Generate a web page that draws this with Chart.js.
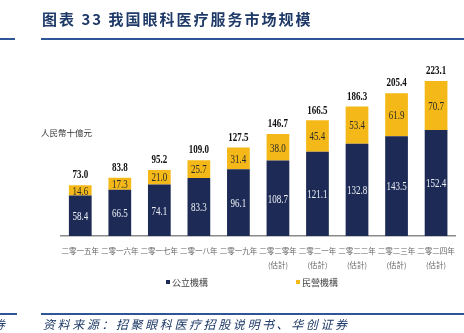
<!DOCTYPE html>
<html>
<head>
<meta charset="utf-8">
<script src="https://cdn.jsdelivr.net/npm/chart.js@4.4.1/dist/chart.umd.min.js"></script>
<style>
  html, body { margin: 0; padding: 0; background: #fff; }
  #page { position: relative; width: 464px; height: 333px; overflow: hidden; font-family: "Noto Sans CJK SC", sans-serif; }
  #chart-wrap { position: absolute; left: 0; top: 0; width: 464px; height: 333px; }
  .title { position: absolute; left: 42px; top: 8px; font-size: 15px; font-weight: bold; color: #1f3a68; letter-spacing: 2px; white-space: nowrap; }
  .rule { position: absolute; height: 2px; background: #2f5596; }
  .unit { position: absolute; left: 41px; top: 126px; font-size: 8.5px; color: #333; white-space: nowrap; }
  .legend { position: absolute; top: 276px; font-size: 9px; color: #444; white-space: nowrap; }
  .legend i { display: inline-block; width: 4px; height: 4px; margin-right: 2px; vertical-align: 2px; }
  .source { position: absolute; left: 43px; top: 315px; font-size: 12px; font-style: italic; color: #1f3a68; letter-spacing: 2.6px; white-space: nowrap; }
</style>
</head>
<body>
<div id="page">
  <div id="chart-wrap"><canvas id="marketChart"></canvas></div>
  <div class="title">图表 33 我国眼科医疗服务市场规模</div>
  <div class="rule" style="left:41px; right:0; top:38px;"></div>
  <div class="rule" style="left:0; width:15px; top:38px;"></div>
  <div class="unit">人民幣十億元</div>
  <div class="legend" style="left:166px;"><i style="background:#1c2a55"></i>公立機構</div>
  <div class="legend" style="left:296px;"><i style="background:#f4b918"></i>民營機構</div>
  <div class="rule" style="left:41px; right:0; top:313px;"></div>
  <div class="rule" style="left:0; width:17px; top:313px;"></div>
  <div class="source" style="left:-7px;">券</div>
  <div class="source">资料来源：招聚眼科医疗招股说明书、华创证券</div>
</div>
<script>
// market size, RMB bn
const years = [
  "二零一五年", "二零一六年", "二零一七年", "二零一八年", "二零一九年",
  ["二零二零年", "(估計)"], ["二零二一年", "(估計)"], ["二零二二年", "(估計)"],
  ["二零二三年", "(估計)"], ["二零二四年", "(估計)"]
];
const publicInst = [58.4, 66.5, 74.1, 83.3, 96.1, 108.7, 121.1, 132.8, 143.5, 152.4];
const privateInst = [14.6, 17.3, 21.0, 25.7, 31.4, 38.0, 45.4, 53.4, 61.9, 70.7];
const totals = [73.0, 83.8, 95.2, 109.0, 127.5, 146.7, 166.5, 186.3, 205.4, 223.1];

const NAVY = "#1c2a55";
const GOLD = "#f4b918";

// narrow serif numbers, drawn squeezed horizontally
const drawNarrow = (ctx, text, x, y, font, color) => {
  ctx.save();
  ctx.font = font;
  ctx.fillStyle = color;
  ctx.textAlign = "center";
  ctx.textBaseline = "middle";
  ctx.translate(x, y);
  ctx.scale(0.72, 1);
  ctx.fillText(text, 0, 0);
  ctx.restore();
};

const valueLabels = {
  id: "valueLabels",
  afterDatasetsDraw(chart) {
    const { ctx } = chart;
    chart.data.datasets.forEach((ds, di) => {
      const meta = chart.getDatasetMeta(di);
      meta.data.forEach((bar, i) => {
        const cy = (bar.y + bar.base) / 2;
        const color = di === 0 ? "#eef1f7" : "#2a2a2a";
        drawNarrow(ctx, ds.data[i].toFixed(1), bar.x, cy + 1, "12.5px 'Liberation Serif'", color);
      });
    });
    const top = chart.getDatasetMeta(chart.data.datasets.length - 1);
    top.data.forEach((bar, i) => {
      drawNarrow(ctx, totals[i].toFixed(1), bar.x, bar.y - 10, "bold 12.5px 'Liberation Serif'", "#111");
    });
  }
};

new Chart(document.getElementById("marketChart"), {
  type: "bar",
  data: {
    labels: years,
    datasets: [
      { label: "公立機構", data: publicInst, backgroundColor: NAVY },
      { label: "民營機構", data: privateInst, backgroundColor: GOLD }
    ]
  },
  options: {
    responsive: true,
    maintainAspectRatio: false,
    animation: false,
    datasets: { bar: { categoryPercentage: 1, barPercentage: 0.575 } },
    layout: { padding: { left: 60.5, right: 3.5, top: 62.25, bottom: 57 } },
    scales: {
      x: {
        stacked: true,
        grid: { display: false, drawTicks: false },
        border: { display: true, color: "#8a8a8a", width: 1.5 },
        ticks: {
          color: "#666",
          padding: 9,
          maxRotation: 0,
          autoSkip: false,
          font: { family: "'Noto Sans CJK SC'", size: 7.5, lineHeight: 1.75 }
        },
        afterFit: (axis) => { axis.height = 40; }
      },
      y: { stacked: true, display: false, min: 0, max: 250 }
    },
    plugins: {
      legend: { display: false },
      tooltip: { enabled: false }
    }
  },
  plugins: [valueLabels]
});
</script>
</body>
</html>
